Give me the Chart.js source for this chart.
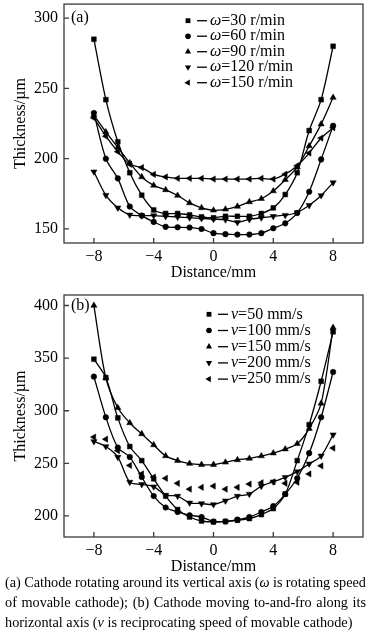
<!DOCTYPE html>
<html><head><meta charset="utf-8">
<script src="https://cdn.jsdelivr.net/npm/chart.js@4/dist/chart.umd.min.js"></script>
<style>
html,body{margin:0;padding:0;background:#fff;width:378px;height:640px;overflow:hidden;}
canvas{position:absolute;left:0;}
#ca{top:0;}
#cb{top:282px;}
.cap{position:absolute;left:5px;width:361px;font-family:"Liberation Serif","Times New Roman",serif;font-size:14.25px;line-height:20px;color:#000;white-space:nowrap;}
.j{text-align:justify;text-align-last:justify;white-space:normal;word-spacing:-2px;}
</style></head>
<body>
<canvas id="ca" width="378" height="282"></canvas>
<canvas id="cb" width="378" height="294"></canvas>
<div class="cap j" style="top:572px">(a) Cathode rotating around its vertical axis (<i>ω</i> is rotating speed</div>
<div class="cap j" style="top:592px">of movable cathode); (b) Cathode moving to-and-fro along its</div>
<div class="cap" style="top:612px">horizontal axis (<i>v</i> is reciprocating speed of movable cathode)</div>
<script>
// ---- data ----
const distance = [-8, -7.2, -6.4, -5.6, -4.8, -4, -3.2, -2.4, -1.6, -0.8, 0, 0.8, 1.6, 2.4, 3.2, 4, 4.8, 5.6, 6.4, 7.2, 8];
const xTickValues = [-8, -4, 0, 4, 8];

// panel (a): rotating speed
const w30  = [285, 242, 212, 190, 174, 163.5, 161, 161, 160, 158.6, 158, 159, 159, 159, 161, 165, 174.5, 190, 220, 242, 280];
const w60  = [232.5, 200, 186, 166, 159.5, 155, 151.5, 151.2, 151, 150, 147, 146.3, 146, 146, 147, 150.5, 154, 161.4, 176.5, 199.5, 223.4];
const w90  = [231, 219, 208, 197, 187, 181, 177.8, 173.8, 168.5, 165, 163.3, 164, 166, 169.2, 171.5, 177, 185, 194, 209, 224.6, 243.5];
const w120 = [190.7, 174, 165, 160, 159.5, 159.5, 159, 158.5, 158, 157.5, 157, 156.6, 154.7, 156.8, 158, 159, 159.8, 161.7, 166.8, 173.8, 183];
const w150 = [229, 216, 205, 196, 193.7, 188.8, 187, 186, 186, 186, 185.5, 185.5, 185.5, 185.5, 186, 185.5, 189, 195, 204, 214.7, 222];
const labelsA = ["=30 r/min", "=60 r/min", "=90 r/min", "=120 r/min", "=150 r/min"];
const yTicksA = [150, 200, 250, 300];

// panel (b): reciprocating speed
const v50  = [349, 331.5, 293.2, 266, 252.6, 235.3, 218.9, 206.1, 199, 195.2, 194.3, 194.8, 195.9, 197.5, 201.3, 207, 220.8, 252.6, 286.8, 328, 375];
const v100 = [332.4, 293.8, 265, 256, 237, 218.9, 208, 203.8, 200.7, 199, 194.8, 194.8, 196.5, 199, 203.8, 209.3, 220.8, 235.8, 259.7, 293.8, 336.8];
const v150 = [400, 331, 302.8, 288.4, 278, 267.5, 257.1, 252.6, 249.8, 248.8, 248.8, 251, 253.3, 254.6, 257, 259.7, 263.5, 268.6, 283, 307, 379];
const v200 = [270.8, 266, 255.9, 232.2, 230, 227.8, 219.8, 218.9, 212.5, 211.8, 210.9, 214.4, 218.9, 220.8, 228.4, 232.5, 236.7, 242.1, 249.5, 257.1, 277.2];
const v250 = [275, 273, 262, 248, 240, 237, 235.8, 231, 225.5, 227.2, 228.4, 225.5, 227.2, 230.3, 231.6, 232.5, 231, 232, 239.9, 247.6, 264.5];
const labelsB = ["=50 mm/s", "=100 mm/s", "=150 mm/s", "=200 mm/s", "=250 mm/s"];
const yTicksB = [200, 250, 300, 350, 400];

// ---- styles ----
const FONT = '"Liberation Serif", "Times New Roman", serif';
const markers = [
  {pointStyle: 'rect', rotation: 0, radius: 3.4},
  {pointStyle: 'circle', rotation: 0, radius: 2.8},
  {pointStyle: 'triangle', rotation: 0, radius: 3.6},
  {pointStyle: 'triangle', rotation: 180, radius: 3.6},
  {pointStyle: 'triangle', rotation: 270, radius: 3.6}
];

function makeSets(series, labels, symbol, noLine) {
  return series.map((vals, i) => ({
    label: symbol + labels[i],
    data: distance.map((d, k) => ({x: d, y: vals[k]})),
    borderColor: '#000',
    backgroundColor: '#000',
    borderWidth: 1.3,
    tension: 0.3,
    showLine: !(noLine && noLine[i]),
    pointStyle: markers[i].pointStyle,
    pointRotation: markers[i].rotation,
    pointRadius: markers[i].radius,
    pointHoverRadius: markers[i].radius,
    pointBackgroundColor: '#000',
    pointBorderColor: '#000',
    pointBorderWidth: 0.5
  }));
}

function drawMarker(ctx, style, rot, r, x, y) {
  ctx.save();
  ctx.translate(x, y);
  ctx.rotate(rot * Math.PI / 180);
  ctx.beginPath();
  if (style === 'rect') {
    const s = Math.SQRT1_2 * r;
    ctx.rect(-s, -s, 2 * s, 2 * s);
  } else if (style === 'circle') {
    ctx.arc(0, 0, r, 0, Math.PI * 2);
  } else {
    for (let k = 0; k < 3; k++) {
      const a = k * 2 * Math.PI / 3;
      const px = Math.sin(a) * r, py = -Math.cos(a) * r;
      if (k === 0) ctx.moveTo(px, py); else ctx.lineTo(px, py);
    }
    ctx.closePath();
  }
  ctx.fillStyle = '#000';
  ctx.fill();
  ctx.restore();
}

function framePlugin(panelLabel, symbol, legendX, legendY0, legendStep) {
  return {
    id: 'frame',
    afterDraw(chart) {
      const {ctx, chartArea: a, scales} = chart;
      ctx.save();
      ctx.strokeStyle = '#3a3a3a';
      ctx.lineWidth = 1.3;
      ctx.strokeRect(a.left, a.top, a.right - a.left, a.bottom - a.top);
      // inner ticks
      ctx.beginPath();
      scales.x.ticks.forEach(t => {
        const px = scales.x.getPixelForValue(t.value);
        ctx.moveTo(px, a.bottom); ctx.lineTo(px, a.bottom - 5);
      });
      scales.y.ticks.forEach(t => {
        const py = scales.y.getPixelForValue(t.value);
        ctx.moveTo(a.left, py); ctx.lineTo(a.left + 5, py);
      });
      ctx.stroke();
      // panel label at top tick value
      ctx.fillStyle = '#000';
      ctx.font = '16px ' + FONT;
      ctx.textBaseline = 'middle';
      ctx.textAlign = 'left';
      const topTick = scales.y.ticks[scales.y.ticks.length - 1].value;
      ctx.fillText(panelLabel, a.left + 7, scales.y.getPixelForValue(topTick));
      // legend
      chart.data.datasets.forEach((ds, i) => {
        const y = legendY0 + i * legendStep;
        drawMarker(ctx, ds.pointStyle, ds.pointRotation, ds.pointRadius, legendX, y);
        ctx.strokeStyle = '#000';
        ctx.lineWidth = 1.3;
        ctx.beginPath();
        ctx.moveTo(legendX + 9, y); ctx.lineTo(legendX + 19, y);
        ctx.stroke();
        ctx.font = 'italic 16px ' + FONT;
        const tx = legendX + 22;
        ctx.fillText(symbol, tx, y);
        const w = ctx.measureText(symbol).width;
        ctx.font = '16px ' + FONT;
        ctx.fillText(ds.label.slice(symbol.length), tx + w, y);
      });
      ctx.restore();
    }
  };
}

function makeChart(id, datasets, yMin, yMax, yTicks, padTop, xHeight, plugin) {
  return new Chart(document.getElementById(id), {
    type: 'scatter',
    data: {datasets},
    options: {
      responsive: false,
      animation: false,
      devicePixelRatio: 1,
      layout: {padding: {top: padTop, right: 15, left: 0, bottom: 0}},
      plugins: {legend: {display: false}, tooltip: {enabled: false}},
      scales: {
        x: {
          type: 'linear', min: -10, max: 10,
          afterBuildTicks: s => { s.ticks = xTickValues.map(v => ({value: v})); },
          afterFit: s => { s.height = xHeight; s.paddingLeft = 0; s.paddingRight = 0; },
          grid: {display: false, drawTicks: false},
          border: {display: false},
          ticks: {font: {family: FONT, size: 16}, color: '#000', padding: 4,
                  callback: v => (v < 0 ? '\u2212' + Math.abs(v) : String(v))},
          title: {display: true, text: 'Distance/mm', color: '#000',
                  font: {family: FONT, size: 16}, padding: {top: 0, bottom: 0}}
        },
        y: {
          type: 'linear', min: yMin, max: yMax,
          afterBuildTicks: s => { s.ticks = yTicks.map(v => ({value: v})); },
          afterFit: s => { s.width = 64; s.paddingTop = 0; s.paddingBottom = 0; },
          grid: {display: false, drawTicks: false},
          border: {display: false},
          ticks: {font: {family: FONT, size: 16}, color: '#000', padding: 6},
          title: {display: true, text: 'Thickness/\u00b5m', color: '#000',
                  font: {family: FONT, size: 16}, padding: {top: 11, bottom: 0}}
        }
      }
    },
    plugins: [plugin]
  });
}

makeChart('ca', makeSets([w30, w60, w90, w120, w150], labelsA, '\u03c9'), 140, 310, yTicksA, 1, 39,
  framePlugin('(a)', '\u03c9', 188, 20.7, 15.5));
makeChart('cb', makeSets([v50, v100, v150, v200, v250], labelsB, 'v', [false, false, false, false, true]), 180, 410, yTicksB, 13, 39,
  framePlugin('(b)', 'v', 209, 314.3 - 282, 16.2));
</script>
</body></html>
